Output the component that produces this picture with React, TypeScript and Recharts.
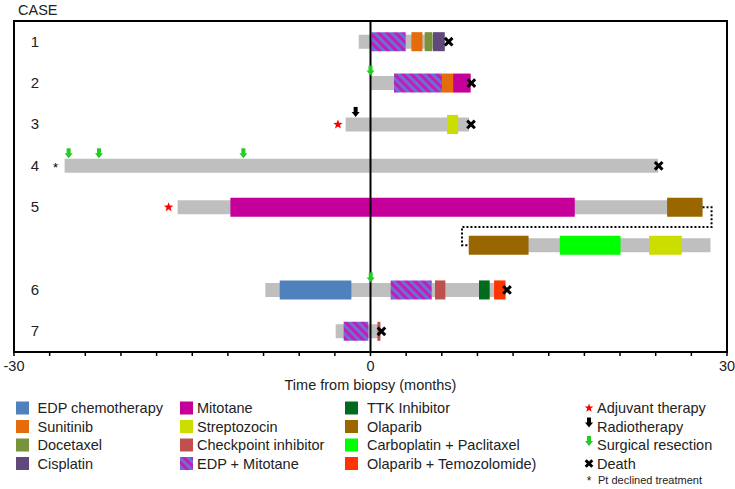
import React from 'react';
import { ComposedChart, XAxis, YAxis, ReferenceArea, ReferenceLine, Scatter, Line } from 'recharts';

// rows (y units, reversed axis 0..8)
const caseNames = ['1', '2', '3', '4', '5', '6', '7'];
const caseRows = [0.5, 1.5, 2.5, 3.5, 4.5, 6.5, 7.5];
const xTicks = [-30, -27, -24, -21, -18, -15, -12, -9, -6, -3, 0, 3, 6, 9, 12, 15, 18, 21, 24, 27, 30];
const xLabelTicks = [-30, 0, 30];

const drugNames = [
  'EDP chemotherapy', 'Sunitinib', 'Docetaxel', 'Cisplatin',
  'Mitotane', 'Streptozocin', 'Checkpoint inhibitor', 'EDP + Mitotane',
  'TTK Inhibitor', 'Olaparib', 'Carboplatin + Paclitaxel', 'Olaparib + Temozolomide)',
];
const drugColors = [
  '#4F81BD', '#E46C0A', '#77933C', '#604A7B',
  '#C5009A', '#CCDD00', '#C0504D', 'url(#edpMito)',
  '#006B1E', '#996600', '#00FF00', '#FF3300',
];

// grey follow-up bars: [row, start, end]
const followUp = [
  [0.5, -0.99, 6.25],
  [1.5, 0, 8.43],
  [2.5, -2.09, 8.29],
  [3.5, -25.74, 24.2],
  [4.5, -16.23, 27.94],
  [5.42, 8.27, 28.61],
  [6.5, -8.85, 11.36],
  [7.5, -2.93, 0.83],
];

// treatments: [row, start, end, drug index]
const treatments = [
  [0.5, 0.08, 2.96, 7],
  [0.5, 3.44, 4.37, 1],
  [0.5, 4.56, 5.21, 2],
  [0.5, 5.26, 6.25, 3],
  [1.5, 1.98, 6.02, 7],
  [1.5, 6.02, 6.95, 1],
  [1.5, 6.95, 8.43, 4],
  [2.5, 6.44, 7.37, 5],
  [4.5, -11.79, 17.19, 4],
  [4.5, 24.96, 27.94, 9],
  [5.42, 8.27, 13.3, 9],
  [5.42, 15.93, 21.04, 10],
  [5.42, 23.44, 26.2, 5],
  [6.5, -7.64, -1.61, 0],
  [6.5, 1.7, 5.15, 7],
  [6.5, 5.43, 6.3, 6],
  [6.5, 9.13, 10.03, 8],
  [6.5, 10.4, 11.36, 11],
  [7.5, -2.26, -0.18, 7],
  [7.5, 0.58, 0.83, 6],
];

const adjuvant = [{ x: -2.74, y: 2.5 }, { x: -16.99, y: 4.5 }];
const radiotherapy = [{ x: -1.25, y: 2.5 }];
const surgery = [
  { x: 0, y: 1.5 }, { x: -25.4, y: 3.5 }, { x: -22.85, y: 3.5 },
  { x: -10.7, y: 3.5 }, { x: 0.02, y: 6.5 },
];
const deaths = [
  { x: 6.58, y: 0.5 }, { x: 8.49, y: 1.5 }, { x: 8.46, y: 2.5 },
  { x: 24.25, y: 3.5 }, { x: 11.49, y: 6.5 }, { x: 0.92, y: 7.5 },
];
const declined = [{ x: -26.5, y: 3.5 }];
const connector = [
  { x: 27.94, y: 4.5 }, { x: 28.7, y: 4.5 }, { x: 28.7, y: 4.98 },
  { x: 7.7, y: 4.98 }, { x: 7.7, y: 5.42 }, { x: 8.27, y: 5.42 },
];

const eventLabels = ['Adjuvant therapy', 'Radiotherapy', 'Surgical resection', 'Death'];

const FONT = '"Liberation Sans", Arial, sans-serif';
const GREY = '#BFBFBF';

const starPath = (cx: number, cy: number, r: number) => {
  const pts: string[] = [];
  for (let i = 0; i < 10; i++) {
    const rad = i % 2 === 0 ? r : r * 0.42;
    const a = -Math.PI / 2 + (i * Math.PI) / 5;
    pts.push(`${cx + rad * Math.cos(a)},${cy + rad * Math.sin(a)}`);
  }
  return `M${pts.join('L')}Z`;
};

const Star = ({ cx, cy, r = 5 }: any) => <path d={starPath(cx, cy, r)} fill="#FF0000" />;

const Arrow = ({ cx, cy, color, lift = 12.5 }: any) => {
  const y = cy - lift;
  return (
    <g fill={color}>
      <rect x={cx - 2} y={y - 5} width={4} height={5.5} />
      <path d={`M${cx - 4},${y} L${cx + 4},${y} L${cx},${y + 5}Z`} />
    </g>
  );
};

const Cross = ({ cx, cy, s = 3.8 }: any) => (
  <path d={`M${cx - s},${cy - s}L${cx + s},${cy + s}M${cx - s},${cy + s}L${cx + s},${cy - s}`} stroke="#000" strokeWidth={3} />
);

const renderCaseTick = (p: any) => (
  <text key={`c${p.index}`} x={35} y={p.y} dy={5} textAnchor="middle" fontSize={15} fill="#222" fontFamily={FONT}>
    {caseNames[caseRows.indexOf(p.payload.value)]}
  </text>
);

const legendCols = [
  { sq: 16, tx: 37.5, idx: [0, 1, 2, 3] },
  { sq: 180, tx: 197, idx: [4, 5, 6, 7] },
  { sq: 345, tx: 367, idx: [8, 9, 10, 11] },
];
const legendRowsY = [408, 426.5, 445, 463.5];

export default function App() {
  return (
    <div style={{ position: 'absolute', left: 0, top: 0, width: 735, height: 489, background: '#fff', fontFamily: FONT }}>
      <ComposedChart width={735} height={489} margin={{ top: 21, right: 8, left: 13, bottom: 97 }}>
        <XAxis
          type="number"
          dataKey="x"
          domain={[-30, 30]}
          ticks={xTicks}
          interval={0}
          allowDataOverflow
          tickFormatter={(v: number) => (xLabelTicks.includes(v) ? String(v) : '')}
          tick={{ fill: '#222', fontSize: 14.5, fontFamily: FONT }}
          tickSize={4}
          tickMargin={5}
          axisLine={{ stroke: '#000', strokeWidth: 2 }}
          tickLine={{ stroke: '#000', strokeWidth: 1.5 }}
          height={40}
          label={{ value: 'Time from biopsy (months)', position: 'insideBottom', offset: 2, fill: '#222', fontSize: 14.5, fontFamily: FONT }}
        />
        <YAxis
          type="number"
          dataKey="y"
          domain={[0, 8]}
          reversed
          allowDataOverflow
          ticks={caseRows}
          interval={0}
          width={1}
          axisLine={false}
          tickLine={false}
          tick={renderCaseTick}
        />
        <ReferenceArea x1={-30} x2={30} y1={0} y2={8} fill="none" stroke="#000" strokeWidth={2} ifOverflow="visible" />
        {followUp.map(([row, s, e], i) => (
          <ReferenceArea key={`f${i}`} x1={s} x2={e} y1={row - 0.17} y2={row + 0.17} fill={GREY} fillOpacity={1} stroke="none" ifOverflow="visible" />
        ))}
        {treatments.map(([row, s, e, d], i) => (
          <ReferenceArea key={`t${i}`} x1={s} x2={e} y1={row - 0.23} y2={row + 0.23} fill={drugColors[d]} fillOpacity={1} stroke="none" ifOverflow="visible" />
        ))}
        <ReferenceLine x={0} stroke="#000" strokeWidth={2} />
        <Line data={connector} dataKey="y" type="linear" stroke="#000" strokeWidth={2} strokeDasharray="2 2" dot={false} activeDot={false} isAnimationActive={false} />
        <Scatter data={adjuvant} dataKey="y" isAnimationActive={false} shape={(p: any) => <Star cx={p.cx} cy={p.cy} />} />
        <Scatter data={radiotherapy} dataKey="y" isAnimationActive={false} shape={(p: any) => <Arrow cx={p.cx} cy={p.cy} color="#000" />} />
        <Scatter data={surgery} dataKey="y" isAnimationActive={false} shape={(p: any) => <Arrow cx={p.cx} cy={p.cy} color="#22CC22" />} />
        <Scatter data={deaths} dataKey="y" isAnimationActive={false} shape={(p: any) => <Cross cx={p.cx} cy={p.cy} />} />
        <Scatter
          data={declined}
          dataKey="y"
          isAnimationActive={false}
          shape={(p: any) => (
            <text x={p.cx} y={p.cy + 6} textAnchor="middle" fontSize={13} fill="#000" fontFamily={FONT}>*</text>
          )}
        />
      </ComposedChart>

      <svg width={735} height={489} style={{ position: 'absolute', left: 0, top: 0, pointerEvents: 'none' }}>
        <defs>
          <pattern id="edpMito" patternUnits="userSpaceOnUse" width={6} height={6} patternTransform="rotate(-45)">
            <rect width={6} height={6} fill="#C41DAF" />
            <rect width={3} height={6} fill="#6A6FDC" />
          </pattern>
        </defs>
        <text x={18} y={15} fontSize={14.5} fill="#222" fontFamily={FONT}>CASE</text>
        {legendCols.map((col, ci) =>
          col.idx.map((d, ri) => (
            <g key={`l${ci}-${ri}`}>
              <rect x={col.sq} y={legendRowsY[ri] - 6.5} width={13} height={13} fill={drugColors[d]} />
              <text x={col.tx} y={legendRowsY[ri] + 5} fontSize={14.5} fill="#222" fontFamily={FONT}>{drugNames[d]}</text>
            </g>
          ))
        )}
        <Star cx={589} cy={legendRowsY[0]} r={4.5} />
        <Arrow cx={589} cy={legendRowsY[1]} color="#000" lift={4} />
        <Arrow cx={589} cy={legendRowsY[2]} color="#22CC22" lift={4} />
        <Cross cx={589} cy={legendRowsY[3]} s={3.3} />
        {eventLabels.map((t, i) => (
          <text key={t} x={597} y={legendRowsY[i] + 5} fontSize={14.5} fill="#222" fontFamily={FONT}>{t}</text>
        ))}
        <text x={589} y={485} textAnchor="middle" fontSize={12} fill="#222" fontFamily={FONT}>*</text>
        <text x={598} y={484} fontSize={11} fill="#222" fontFamily={FONT}>Pt declined treatment</text>
      </svg>
    </div>
  );
}
